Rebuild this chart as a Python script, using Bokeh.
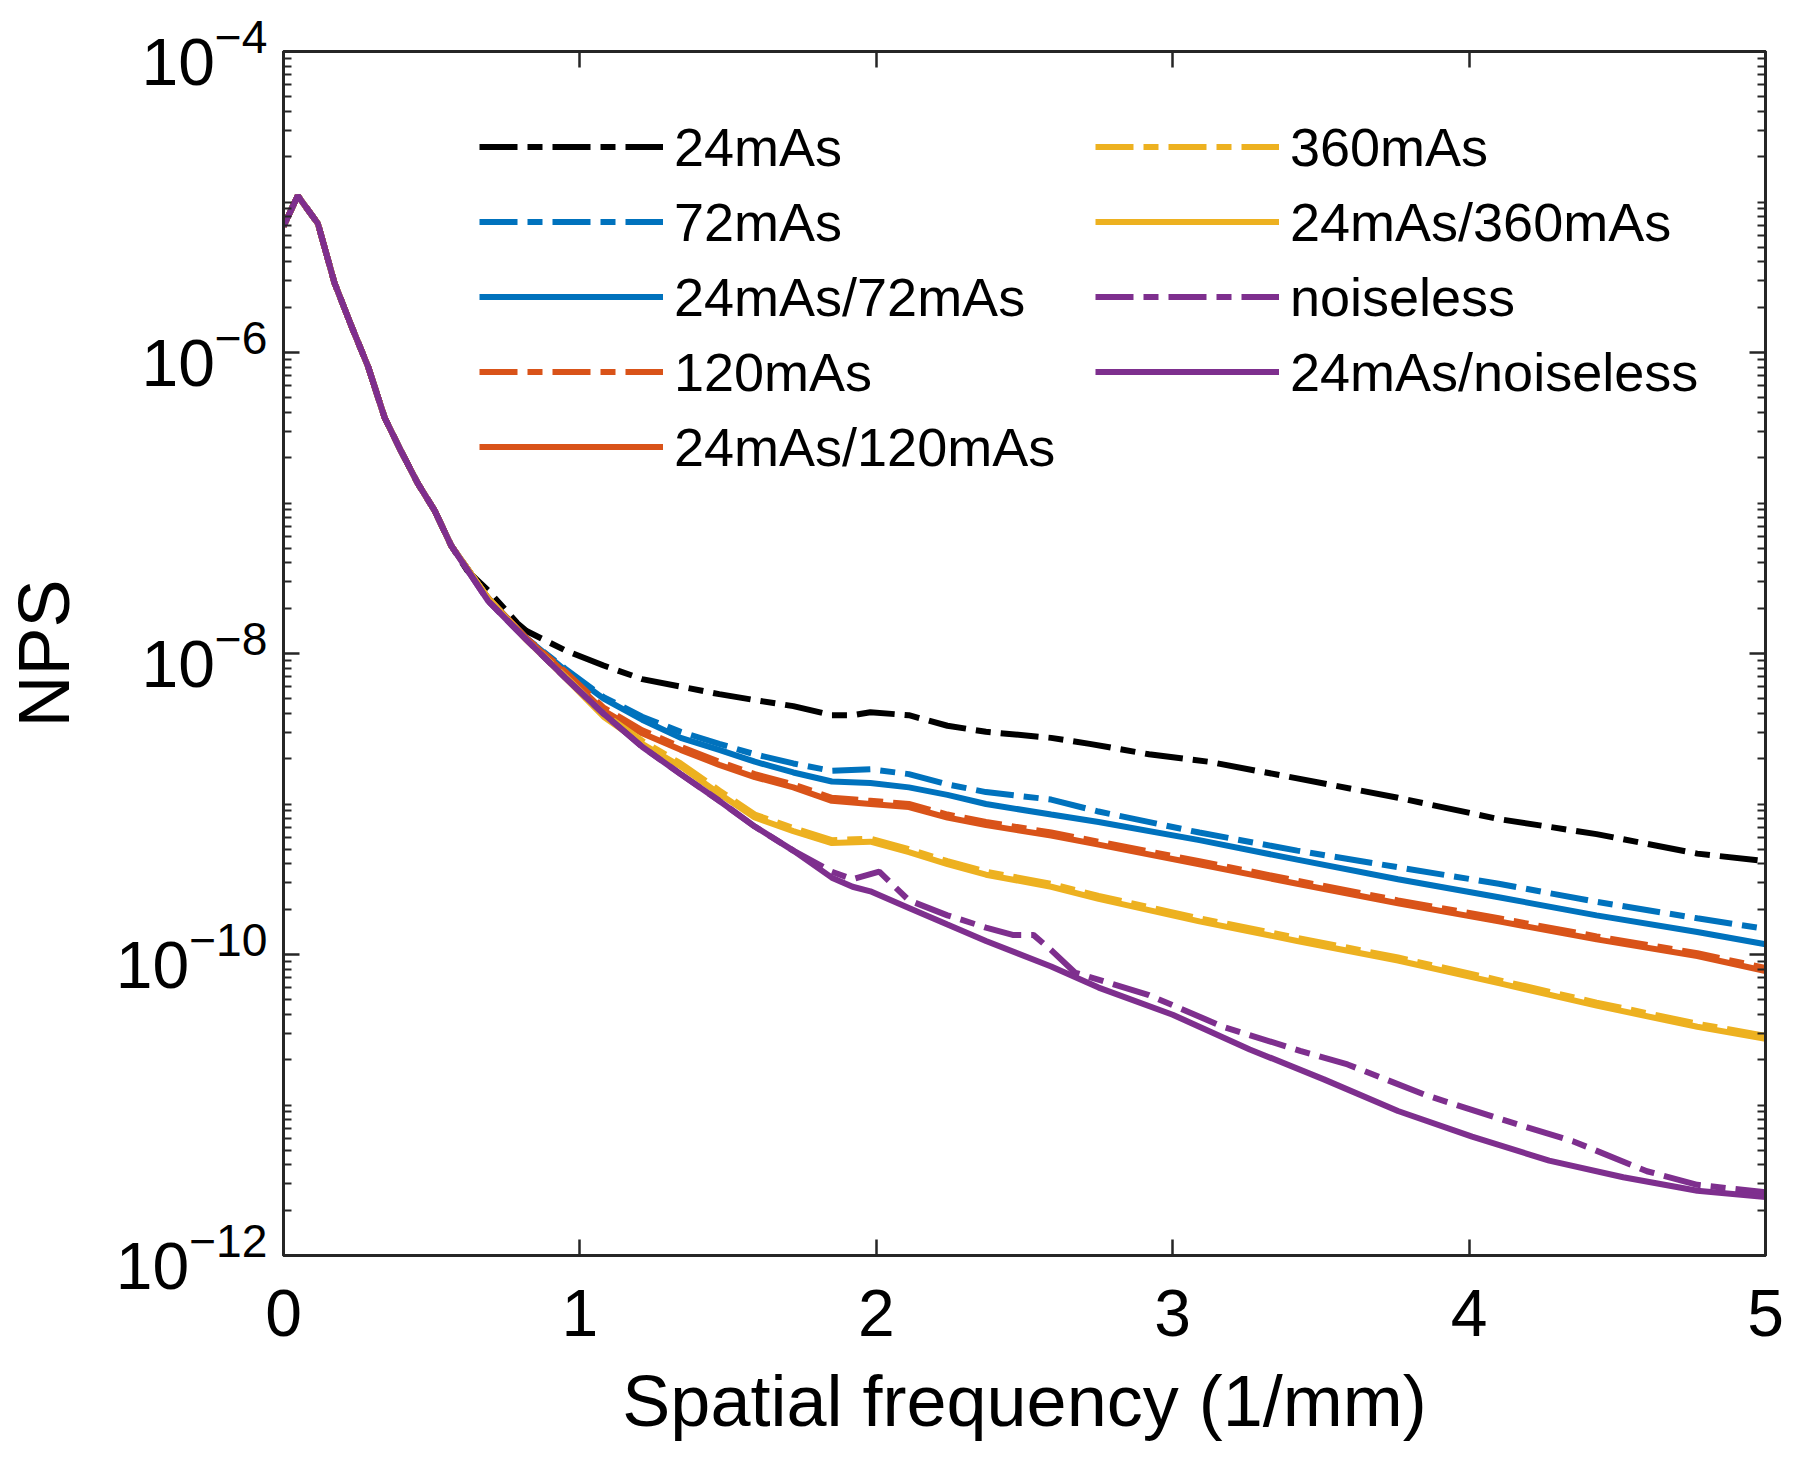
from bokeh.plotting import figure
from bokeh.models import (LinearAxis, LogAxis, FixedTicker, Legend, LegendItem, Range1d,
                          CustomJSTickFormatter)
from bokeh.embed import file_html
from bokeh.resources import INLINE

# ---------------- data ----------------
# shared low-frequency part (all curves coincide here)
freq_low = [0.0, 0.048, 0.116, 0.172, 0.229, 0.285, 0.341, 0.397, 0.453, 0.51, 0.566]
nps_low = [6.9e-6, 1.10e-5, 7.2e-6, 2.9e-6, 1.5e-6, 8.1e-7, 3.7e-7, 2.2e-7, 1.35e-7, 8.9e-8, 5.2e-8]

freq_24 = [0.62, 0.69, 0.79, 0.82, 0.95, 1.08, 1.21, 1.34, 1.47, 1.59, 1.72, 1.85, 1.92, 1.98,
           2.11, 2.24, 2.37, 2.59, 2.72, 2.92, 3.12, 3.42, 3.76, 4.10, 4.43, 4.77, 5.0]
nps_24 = [3.55e-8, 2.63e-8, 1.58e-8, 1.41e-8, 1.05e-8, 8.32e-9, 6.76e-9, 6.03e-9, 5.37e-9, 4.90e-9,
          4.47e-9, 3.89e-9, 3.89e-9, 4.07e-9, 3.89e-9, 3.31e-9, 3.02e-9, 2.75e-9, 2.51e-9, 2.14e-9,
          1.91e-9, 1.48e-9, 1.10e-9, 7.94e-10, 6.31e-10, 4.68e-10, 4.17e-10]

freq_mid = [0.69, 0.82, 0.95, 1.08, 1.21, 1.34, 1.47, 1.59, 1.72, 1.85, 1.98, 2.11, 2.24, 2.37,
            2.59, 2.75, 3.09, 3.42, 3.76, 4.10, 4.43, 4.77, 5.0]
nps_72 = [2.34e-8, 1.26e-8, 7.94e-9, 5.13e-9, 3.80e-9, 3.02e-9, 2.51e-9, 2.14e-9, 1.86e-9, 1.66e-9,
          1.70e-9, 1.58e-9, 1.35e-9, 1.20e-9, 1.07e-9, 8.91e-10, 6.46e-10, 4.90e-10, 3.80e-10,
          2.95e-10, 2.24e-10, 1.74e-10, 1.48e-10]
nps_24_72 = [2.34e-8, 1.26e-8, 7.76e-9, 5.01e-9, 3.63e-9, 2.75e-9, 2.29e-9, 1.91e-9, 1.62e-9, 1.41e-9,
             1.38e-9, 1.29e-9, 1.15e-9, 1.00e-9, 8.51e-10, 7.59e-10, 5.75e-10, 4.27e-10, 3.16e-10,
             2.40e-10, 1.82e-10, 1.41e-10, 1.17e-10]
nps_120 = [2.34e-8, 1.26e-8, 7.59e-9, 4.37e-9, 3.09e-9, 2.40e-9, 1.91e-9, 1.58e-9, 1.35e-9, 1.10e-9,
           1.05e-9, 1.00e-9, 8.51e-10, 7.59e-10, 6.46e-10, 5.62e-10, 4.17e-10, 3.09e-10, 2.29e-10,
           1.74e-10, 1.32e-10, 1.02e-10, 8.13e-11]
nps_24_120 = [2.34e-8, 1.26e-8, 7.41e-9, 4.17e-9, 2.95e-9, 2.29e-9, 1.82e-9, 1.51e-9, 1.29e-9, 1.05e-9,
              1.00e-9, 9.55e-10, 8.13e-10, 7.24e-10, 6.17e-10, 5.37e-10, 3.98e-10, 2.95e-10, 2.19e-10,
              1.66e-10, 1.26e-10, 9.77e-11, 7.76e-11]
nps_360 = [2.34e-8, 1.23e-8, 7.08e-9, 3.98e-9, 2.63e-9, 1.86e-9, 1.23e-9, 8.51e-10, 6.92e-10, 5.75e-10,
           5.89e-10, 5.01e-10, 4.17e-10, 3.55e-10, 2.95e-10, 2.45e-10, 1.74e-10, 1.29e-10, 9.55e-11,
           6.76e-11, 4.79e-11, 3.47e-11, 2.88e-11]
nps_24_360 = [2.34e-8, 1.23e-8, 6.92e-9, 3.80e-9, 2.51e-9, 1.78e-9, 1.17e-9, 8.13e-10, 6.61e-10, 5.50e-10,
              5.62e-10, 4.79e-10, 3.98e-10, 3.39e-10, 2.82e-10, 2.34e-10, 1.66e-10, 1.23e-10, 9.12e-11,
              6.46e-11, 4.57e-11, 3.31e-11, 2.75e-11]

freq_nl = [0.69, 0.82, 0.95, 1.08, 1.21, 1.34, 1.47, 1.59, 1.72, 1.85, 1.92, 2.01, 2.11, 2.24, 2.37,
           2.46, 2.53, 2.59, 2.67, 2.92, 3.17, 3.43, 3.59, 3.85, 4.10, 4.35, 4.60, 4.77, 5.0]
nps_nl = [2.24e-8, 1.23e-8, 6.92e-9, 3.98e-9, 2.40e-9, 1.58e-9, 1.05e-9, 7.08e-10, 4.90e-10, 3.55e-10,
          3.16e-10, 3.55e-10, 2.29e-10, 1.82e-10, 1.51e-10, 1.35e-10, 1.35e-10, 1.07e-10, 7.59e-11,
          5.37e-11, 3.31e-11, 2.29e-11, 1.86e-11, 1.17e-11, 8.13e-12, 5.75e-12, 3.63e-12, 2.95e-12, 2.63e-12]

freq_24_nl = [0.69, 0.82, 0.95, 1.08, 1.21, 1.34, 1.47, 1.59, 1.72, 1.85, 1.92, 1.98, 2.11, 2.24, 2.37,
              2.59, 2.75, 3.0, 3.26, 3.51, 3.76, 4.01, 4.27, 4.52, 4.77, 5.0]
nps_24_nl = [2.24e-8, 1.23e-8, 6.92e-9, 3.98e-9, 2.40e-9, 1.58e-9, 1.05e-9, 7.08e-10, 4.90e-10, 3.24e-10,
             2.82e-10, 2.63e-10, 2.04e-10, 1.58e-10, 1.23e-10, 8.32e-11, 6.03e-11, 3.98e-11, 2.34e-11,
             1.48e-11, 9.12e-12, 6.17e-12, 4.27e-12, 3.31e-12, 2.69e-12, 2.45e-12]

x_ticks = [0, 1, 2, 3, 4, 5]
y_major = [1e-12, 1e-10, 1e-8, 1e-6, 1e-4]

# ---------------- figure ----------------
FONT = "Liberation Sans"
AX = "#262626"
W, H = 1790, 1460

p = figure(width=W, height=H, x_range=Range1d(0, 5), y_range=Range1d(1e-12, 1e-4),
           y_axis_type="log", output_backend="svg", toolbar_location=None,
           min_border_left=283, min_border_right=W - 1765, min_border_top=51,
           min_border_bottom=H - 1255)
p.grid.visible = False
p.outline_line_color = AX
p.outline_line_width = 3
p.background_fill_color = "white"
p.border_fill_color = "white"

y_minor = []
for e in range(-12, -4):
    for k in range(1, 10):
        if k == 1 and e % 2 == 0:
            continue
        y_minor.append(k * 10.0 ** e)

def style_axis(ax):
    ax.axis_line_color = AX
    ax.axis_line_width = 3
    ax.major_tick_line_color = AX
    ax.major_tick_line_width = 2.5
    ax.major_tick_in = 16
    ax.major_tick_out = 0
    ax.minor_tick_line_color = AX
    ax.minor_tick_line_width = 2
    ax.minor_tick_in = 8
    ax.minor_tick_out = 0
    ax.major_label_text_font = FONT
    ax.major_label_text_color = "#000000"
    ax.major_label_text_font_size = "66px"
    ax.axis_label_text_font = FONT
    ax.axis_label_text_font_style = "normal"
    ax.axis_label_text_color = "#000000"
    ax.axis_label_text_font_size = "72px"

xa = p.xaxis[0]
xa.ticker = FixedTicker(ticks=x_ticks)
style_axis(xa)
xa.minor_tick_line_color = None
xa.major_label_standoff = 34
xa.axis_label = "Spatial frequency (1/mm)"
xa.axis_label_standoff = 22

ya = p.yaxis[0]
ya.ticker = FixedTicker(ticks=y_major, minor_ticks=y_minor)
style_axis(ya)
ya.major_label_standoff = 16
ya.axis_label = "NPS"
ya.axis_label_standoff = 29

blank = CustomJSTickFormatter(code="return ''")

top = LinearAxis(ticker=FixedTicker(ticks=x_ticks), formatter=blank)
style_axis(top)
top.major_label_text_font_size = "1px"
top.minor_tick_line_color = None
top.major_label_standoff = 0
p.add_layout(top, "above")

right = LogAxis(ticker=FixedTicker(ticks=y_major, minor_ticks=y_minor), formatter=blank)
style_axis(right)
right.major_label_text_font_size = "1px"
right.major_label_standoff = 0
p.add_layout(right, "right")

# ---------------- lines ----------------
BLACK, BLUE, RED, YEL, PUR = "#000000", "#0072BD", "#D95319", "#EDB120", "#7E2F8E"
DASHDOT = "38 10 15 10"
LW = 6

series = [
    ("24mAs", freq_24, nps_24, BLACK, DASHDOT),
    ("72mAs", freq_mid, nps_72, BLUE, DASHDOT),
    ("24mAs/72mAs", freq_mid, nps_24_72, BLUE, "solid"),
    ("120mAs", freq_mid, nps_120, RED, DASHDOT),
    ("24mAs/120mAs", freq_mid, nps_24_120, RED, "solid"),
    ("360mAs", freq_mid, nps_360, YEL, DASHDOT),
    ("24mAs/360mAs", freq_mid, nps_24_360, YEL, "solid"),
    ("noiseless", freq_nl, nps_nl, PUR, DASHDOT),
    ("24mAs/noiseless", freq_24_nl, nps_24_nl, PUR, "solid"),
]

items = []
for name, fx, fy, col, dash in series:
    r = p.line(freq_low + fx, nps_low + fy, line_color=col, line_width=LW, line_dash=dash)
    items.append(LegendItem(label=name, renderers=[r]))

def make_legend(its, loc):
    lg = Legend(items=its, location=loc, orientation="vertical")
    lg.border_line_alpha = 0
    lg.background_fill_alpha = 0
    lg.padding = 0
    lg.margin = 0
    lg.spacing = 0
    lg.glyph_width = 184
    lg.glyph_height = 75
    lg.label_height = 75
    lg.label_standoff = 11
    lg.label_text_font = FONT
    lg.label_text_font_size = "54px"
    lg.label_text_color = "#000000"
    return lg

p.add_layout(make_legend(items[:5], (196, 771)))
p.add_layout(make_legend(items[5:], (812, 846)))

open("out.html", "w").write(file_html(p, INLINE))
